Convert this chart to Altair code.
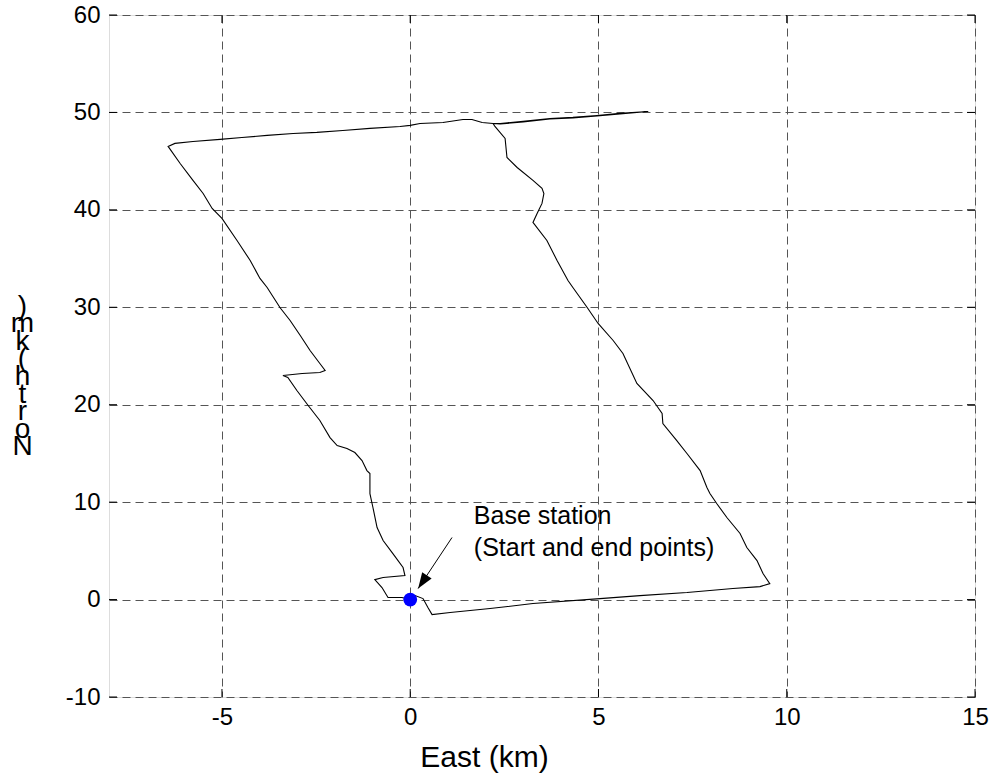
import altair as alt
import pandas as pd

# GPS track (km), in travel order
east_km = [
    0.00, 0.13, 0.34, 0.47, 0.58, 1.06, 2.12, 3.26, 5.04, 6.10, 7.35, 8.57, 9.29, 9.55,
    9.37, 9.21, 8.94, 8.76, 8.41, 8.14, 7.96, 7.88, 7.70, 7.35, 7.08, 6.71, 6.69, 6.45,
    6.02, 5.65, 5.39, 4.99, 4.70, 4.32, 4.19, 3.90, 3.63, 3.26, 3.37, 3.50, 3.55, 3.50,
    3.26, 2.84, 2.57, 2.52, 2.25, 2.20,
    2.39, 3.00, 3.71, 4.32, 4.96, 5.57, 6.32,
    5.57, 4.96, 4.32, 3.71, 3.00, 2.39, 2.20,
    1.91, 1.64, 1.40, 0.87, 0.26, 0.00, -0.27, -1.07, -1.79, -2.48, -3.11, -3.80, -4.47,
    -5.05, -5.77, -6.25, -6.43,
    -6.11, -5.77, -5.50, -5.26, -5.00, -4.60, -4.25, -3.99, -3.80, -3.46, -3.19, -2.92,
    -2.66, -2.40, -2.26,
    -2.40, -2.87, -3.38,
    -3.25, -3.01, -2.71, -2.40, -2.13, -1.94, -1.68, -1.47, -1.28, -1.15, -1.07, -1.07,
    -0.99, -0.88, -0.72, -0.46, -0.19, -0.14,
    -0.72, -0.94, -0.75, -0.59, -0.22, 0.00,
]
north_km = [
    0.00, 0.41, 0.10, -0.82, -1.54, -1.33, -0.92, -0.41, 0.10, 0.41, 0.72, 1.13, 1.33, 1.64,
    2.67, 4.00, 5.34, 6.78, 8.42, 9.86, 10.88, 11.50, 13.24, 14.99, 16.32, 18.07, 19.10, 20.43,
    22.18, 25.26, 26.59, 28.34, 29.98, 32.03, 32.75, 34.80, 36.86, 38.71, 39.63, 40.66, 41.68, 42.20,
    43.02, 44.35, 45.38, 47.33, 48.56, 48.87,
    48.87, 49.08, 49.38, 49.49, 49.69, 49.90, 50.10,
    49.85, 49.64, 49.43, 49.33, 49.02, 48.82, 48.87,
    48.97, 49.28, 49.28, 48.97, 48.87, 48.67, 48.56, 48.36, 48.15, 47.95, 47.84, 47.64, 47.43,
    47.23, 47.02, 46.82, 46.51,
    44.76, 43.02, 41.68, 40.14, 39.12, 36.86, 34.80, 32.96, 32.03, 29.98, 28.64, 27.10,
    25.56, 24.23, 23.51,
    23.31, 23.20, 23.00,
    22.79, 21.46, 19.92, 18.38, 16.63, 15.81, 15.50, 15.09, 14.27, 13.24, 12.94, 10.88,
    9.45, 7.39, 6.06, 4.72, 3.29, 2.46,
    2.26, 2.05, 1.23, 0.21, 0.21, 0.00,
]

x_ticks = [-5, 0, 5, 10, 15]
y_ticks = [-10, 0, 10, 20, 30, 40, 50, 60]

base_east = [0.0]
base_north = [0.0]

# annotation: arrow tail and tip, label anchor
arrow_from = [1.11, 6.37]
arrow_to = [0.21, 1.13]
label_pos = [1.69, 7.80]
label_text = "Base station\n(Start and end points)"

W, H = 866, 682
FONT = "Liberation Sans"

track = pd.DataFrame({"east": east_km, "north": north_km, "order": list(range(len(east_km)))})

xscale = alt.Scale(domain=[-8, 15], nice=False, zero=False)
yscale = alt.Scale(domain=[-10, 60], nice=False, zero=False)

x_axis = alt.Axis(
    values=x_ticks, grid=True, gridDash=[8, 5], gridColor="#555555", gridWidth=1,
    ticks=False, tickSize=0, labelFont=FONT, labelFontSize=24, labelColor="black",
    labelPadding=8, domain=False, labelFlush=False, labelExpr="datum.value + ''",
    title="East (km)", titleFont=FONT, titleFontSize=30, titleFontWeight="normal",
    titleColor="black", titleX=375, titleY=69, titleBaseline="alphabetic", titleAlign="center",
)
y_axis = alt.Axis(
    values=y_ticks, grid=True, gridDash=[8, 5], gridColor="#555555", gridWidth=1,
    ticks=False, tickSize=0, labelFont=FONT, labelFontSize=24, labelColor="black",
    labelPadding=9, domain=False, labelFlush=False, labelExpr="datum.value + ''",
    title=[")", "m", "k", "(", "h", "t", "r", "o", "N"], titleFont=FONT, titleFontSize=28,
    titleFontWeight="normal", titleColor="black", titleAngle=0, titleAlign="center",
    titleBaseline="middle", titleLineHeight=17.6, titleX=-87, titleY=291,
)

line = alt.Chart(track).mark_line(color="black", strokeWidth=1.1, interpolate="linear").encode(
    x=alt.X("east:Q", scale=xscale, axis=x_axis),
    y=alt.Y("north:Q", scale=yscale, axis=y_axis),
    order="order:Q",
)

# inward ticks (MATLAB style) on all four sides
xt = pd.DataFrame({"t": x_ticks})
yt = pd.DataFrame({"t": y_ticks})
tick_bottom = alt.Chart(xt).mark_rule(color="black", strokeWidth=1).encode(
    x=alt.X("t:Q", scale=xscale), y=alt.value(H), y2=alt.value(H - 8))
tick_top = alt.Chart(xt).mark_rule(color="black", strokeWidth=1).encode(
    x=alt.X("t:Q", scale=xscale), y=alt.value(0), y2=alt.value(8))
tick_left = alt.Chart(yt).mark_rule(color="black", strokeWidth=1).encode(
    y=alt.Y("t:Q", scale=yscale), x=alt.value(0), x2=alt.value(8))
tick_right = alt.Chart(yt).mark_rule(color="black", strokeWidth=1).encode(
    y=alt.Y("t:Q", scale=yscale), x=alt.value(W), x2=alt.value(W - 8))

base = alt.Chart(pd.DataFrame({"east": base_east, "north": base_north})).mark_point(
    shape="circle", filled=True, color="#0000ff", size=190, opacity=1
).encode(x=alt.X("east:Q", scale=xscale), y=alt.Y("north:Q", scale=yscale))

arrow_df = pd.DataFrame({"x": [arrow_from[0]], "y": [arrow_from[1]],
                         "x2": [arrow_to[0]], "y2": [arrow_to[1]]})
arrow_line = alt.Chart(arrow_df).mark_rule(color="black", strokeWidth=1).encode(
    x=alt.X("x:Q", scale=xscale), y=alt.Y("y:Q", scale=yscale), x2="x2:Q", y2="y2:Q")
arrow_head = alt.Chart(pd.DataFrame({"x": [arrow_to[0]], "y": [arrow_to[1]]})).mark_point(
    shape="M0,0 L-0.36,1 L0.36,1 Z", filled=True, color="black", size=1000, angle=213.7, opacity=1
).encode(x=alt.X("x:Q", scale=xscale), y=alt.Y("y:Q", scale=yscale))

label = alt.Chart(pd.DataFrame({"x": [label_pos[0]], "y": [label_pos[1]], "t": [label_text]})).mark_text(
    align="left", baseline="alphabetic", font=FONT, fontSize=25, lineBreak="\n", lineHeight=32, color="black"
).encode(x=alt.X("x:Q", scale=xscale), y=alt.Y("y:Q", scale=yscale), text="t:N")

chart = alt.layer(
    line, tick_bottom, tick_top, tick_left, tick_right, arrow_line, arrow_head, base, label
).properties(
    width=W, height=H,
    padding={"left": 109, "top": 15, "right": 17, "bottom": 83},
    autosize=alt.AutoSizeParams(type="none"),
).configure_view(stroke="black", strokeWidth=1.2).configure(background="white")

chart.save("out.html", embed_options={"renderer": "svg", "actions": False})
